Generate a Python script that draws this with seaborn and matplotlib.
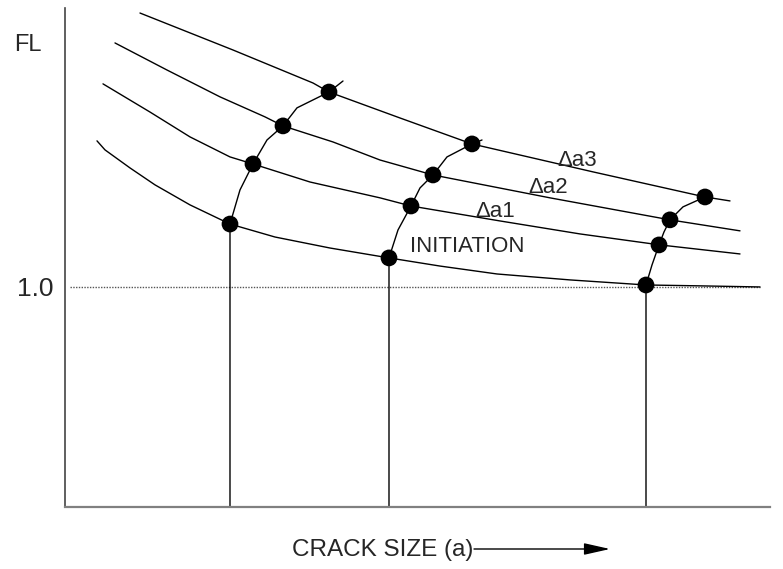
import numpy as np
import pandas as pd
import matplotlib.pyplot as plt
import seaborn as sns

sns.set_style("white")
plt.rcParams['font.family'] = ['Liberation Sans', 'DejaVu Sans']

# FL curves vs crack size (arbitrary units)
init_x = [0.32, 0.40, 0.65, 0.90, 1.25, 1.65, 2.10, 2.65, 3.24, 3.75, 4.32, 5.05, 5.81, 6.35, 6.95]
init_y = [1.664, 1.623, 1.541, 1.464, 1.373, 1.286, 1.227, 1.177, 1.132, 1.095, 1.059, 1.032, 1.009, 1.005, 1.000]

da1_x = [0.38, 0.85, 1.25, 1.65, 1.88, 2.45, 3.15, 3.46, 4.35, 5.15, 5.95, 6.75]
da1_y = [1.923, 1.795, 1.682, 1.591, 1.559, 1.477, 1.405, 1.368, 1.300, 1.241, 1.191, 1.150]

da2_x = [0.50, 1.02, 1.55, 2.00, 2.18, 2.68, 3.15, 3.68, 4.85, 6.05, 6.75]
da2_y = [2.109, 1.986, 1.864, 1.773, 1.732, 1.659, 1.577, 1.509, 1.405, 1.305, 1.255]

da3_x = [0.75, 1.68, 2.48, 2.64, 3.35, 4.07, 5.28, 6.40, 6.65]
da3_y = [2.245, 2.077, 1.927, 1.886, 1.768, 1.650, 1.523, 1.409, 1.391]

# curves joining the points of equal crack size
left_x = [1.65, 1.65, 1.75, 1.88, 2.02, 2.18, 2.32, 2.64, 2.78]
left_y = [0.0, 1.286, 1.441, 1.559, 1.668, 1.732, 1.814, 1.886, 1.936]
mid_x = [3.24, 3.24, 3.33, 3.46, 3.55, 3.68, 3.82, 4.07, 4.17]
mid_y = [0.0, 1.132, 1.259, 1.368, 1.450, 1.509, 1.591, 1.650, 1.668]
right_x = [5.81, 5.81, 5.87, 5.94, 5.99, 6.05, 6.18, 6.40]
right_y = [0.0, 1.009, 1.100, 1.191, 1.250, 1.305, 1.364, 1.409]

dots_x = [1.65, 1.88, 2.18, 2.64, 3.24, 3.46, 3.68, 4.07, 5.81, 5.94, 6.05, 6.40]
dots_y = [1.286, 1.559, 1.732, 1.886, 1.132, 1.368, 1.509, 1.650, 1.009, 1.191, 1.305, 1.409]

curve_labels = ["INITIATION", "Δa1", "Δa2", "Δa3"]

fig = plt.figure(figsize=(7.83, 5.69), dpi=100)
ax = fig.add_axes([0.083, 0.109, 0.9004, 0.877])

ax.plot([0.05, 6.95], [1.0, 1.0], color="#555555", lw=1.0, ls=(0, (1, 1)))

for xs, ys in [(init_x, init_y), (da1_x, da1_y), (da2_x, da2_y), (da3_x, da3_y),
               (left_x, left_y), (mid_x, mid_y), (right_x, right_y)]:
    df = pd.DataFrame({"x": xs, "y": ys})
    sns.lineplot(data=df, x="x", y="y", sort=False, estimator=None,
                 color="black", lw=1.0, ax=ax)

sns.scatterplot(x=dots_x, y=dots_y, s=145, color="black", edgecolor="none",
                ax=ax, zorder=5)

ax.text(4.02, 1.182, curve_labels[0], fontsize=16, ha="center", va="center")
ax.text(4.30, 1.345, curve_labels[1], fontsize=16, ha="center", va="center")
ax.text(4.83, 1.45, curve_labels[2], fontsize=16, ha="center", va="center")
ax.text(5.12, 1.577, curve_labels[3], fontsize=16, ha="center", va="center")
ax.text(-0.37, 2.10, "FL", fontsize=17, ha="center", va="center", clip_on=False)

ax.set_xlim(0, 7.05)
ax.set_ylim(0, 2.268)
ax.set_xticks([])
ax.set_yticks([1.0])
ax.set_yticklabels(["1.0"], fontsize=19)
ax.tick_params(axis="y", length=0, pad=8)
ax.set_xlabel("")
ax.set_ylabel("")

sns.despine(ax=ax)
ax.spines["left"].set_color("#444444")
ax.spines["left"].set_linewidth(1.2)
ax.spines["bottom"].set_color("#808080")
ax.spines["bottom"].set_linewidth(1.6)

fig.text(383 / 783, 1 - 550 / 569, "CRACK SIZE (a)", fontsize=17.5, ha="center", va="center")
ax.annotate("", xy=(610 / 783, 1 - 549 / 569), xytext=(474 / 783, 1 - 549 / 569),
            xycoords="figure fraction", textcoords="figure fraction",
            arrowprops=dict(arrowstyle="-|>,head_length=0.8,head_width=0.18",
                            mutation_scale=20, color="black", lw=1.0,
                            shrinkA=0, shrinkB=0))

fig.savefig("out.png", dpi=100)
